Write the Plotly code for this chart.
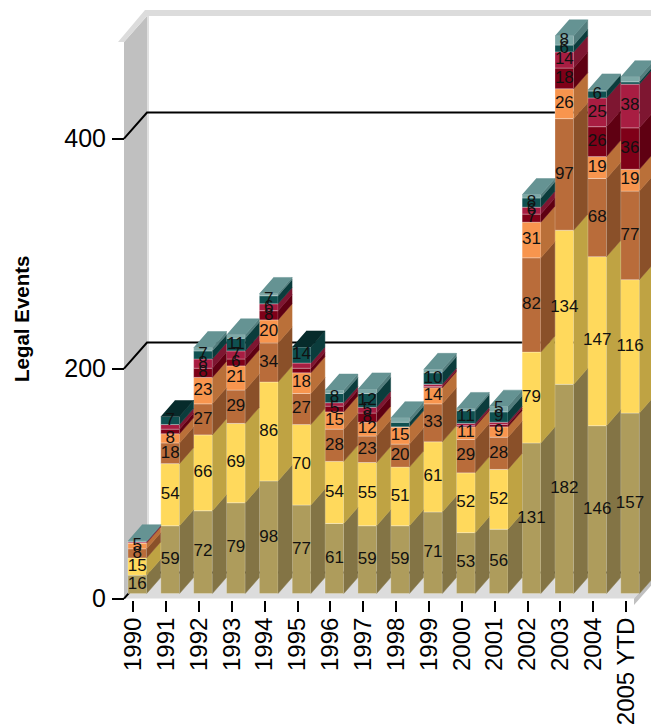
import plotly.graph_objects as go

years = ["1990","1991","1992","1993","1994","1995","1996","1997","1998","1999","2000","2001","2002","2003","2004","2005 YTD"]
khaki      = [16,59,72,79,98,77,61,59,59,71,53,56,131,182,146,157]
yellow     = [15,54,66,69,86,70,54,55,51,61,52,52,79,134,147,116]
brown      = [8,18,27,29,34,27,28,23,20,33,29,28,82,97,68,77]
orange     = [5,8,23,21,20,18,15,12,15,14,11,9,31,26,19,19]
dark_red   = [0,4,8,6,8,4,5,8,0,1,1,2,7,18,26,36]
crimson    = [1,4,8,7,6,4.5,3,5,0,2,2,2,6,14,25,38]
dark_teal  = [0,7,7,11,7,14,8,12,4,10,11,9,8,6,6,2]
light_teal = [1,0,3,3,2,0,3,4,4,3,2,5,3,8,1,4.5]

series = [khaki, yellow, brown, orange, dark_red, crimson, dark_teal, light_teal]
names = ["Khaki","Yellow","Brown","Orange","Dark red","Crimson","Dark teal","Light teal"]
front = ["#AE9C5C","#FFD95C","#B96C3A","#F8954E","#7F0018","#A81D42","#0F5050","#7CA8A6"]
side  = ["#837445","#BFA343","#8A5029","#BA7039","#5F0012","#7E1631","#0B3C3C","#537D7D"]
top   = ["#C8B878","#FFE680","#C98050","#FAB080","#90202A","#7E1631","#062B2B","#659393"]

# Pixel-derived scale constants turned into data units
PXX, PXY = 32.85, 1.15
X0, Y0 = 133.3, 598.6
PLOT_L, PLOT_B = 100, 620
W, H = 651, 725
def ux(px): return (px - X0) / PXX
def uy(py): return (Y0 - py) / PXY

bar_w = 18.7 / PXX
bar_off_x = 4.0 / PXX
bar_off_y = 5.0 / PXY
bar_dx = 14.0 / PXX
bar_dy = 16.0 / PXY
wall_dx = 23.0 / PXX
wall_dy = 26.0 / PXY

fig = go.Figure()
xs = [i + bar_off_x for i in range(len(years))]
cum = [bar_off_y] * len(years)
tops_of_bar = {}
side_polys = []
lab_x, lab_y, lab_t = [], [], []
for s, vals in enumerate(series):
    fig.add_trace(go.Bar(x=xs, y=vals, base=list(cum), width=bar_w, name=names[s],
                         marker=dict(color=front[s], line=dict(width=0.6, color="rgba(255,255,255,0.45)")),
                         hoverinfo="skip", showlegend=False))
    sx, sy = [], []
    for i, v in enumerate(vals):
        b, t = cum[i], cum[i] + v
        if v > 0:
            xr = xs[i] + bar_w / 2
            sx += [xr, xr + bar_dx, xr + bar_dx, xr, None]
            sy += [b, b + bar_dy, t + bar_dy, t, None]
            tops_of_bar[i] = (s, t)
            if v >= 5:
                lab_x.append(xs[i]); lab_y.append((b + t) / 2); lab_t.append(str(v))
    side_polys.append((sx, sy))
    cum = [c + v for c, v in zip(cum, vals)]

for s, (sx, sy) in enumerate(side_polys):
    fig.add_trace(go.Scatter(x=sx, y=sy, mode="lines", fill="toself", fillcolor=side[s],
                             line=dict(width=0.5, color=side[s]), hoverinfo="skip", showlegend=False))
for s in range(len(series)):
    tx, ty = [], []
    for i, (ss, t) in tops_of_bar.items():
        if ss == s:
            xl, xr = xs[i] - bar_w / 2, xs[i] + bar_w / 2
            tx += [xl, xr, xr + bar_dx, xl + bar_dx, None]
            ty += [t, t, t + bar_dy, t + bar_dy, None]
    if tx:
        fig.add_trace(go.Scatter(x=tx, y=ty, mode="lines", fill="toself", fillcolor=top[s],
                                 line=dict(width=0.5, color=top[s]),
                                 hoverinfo="skip", showlegend=False))
fig.add_trace(go.Scatter(x=lab_x, y=lab_y, mode="text", text=lab_t, textposition="middle center",
                         textfont=dict(family="Liberation Sans", size=17, color="#111111"),
                         hoverinfo="skip", showlegend=False))

# Walls and floor
wx0 = ux(124); wx1 = wx0 + wall_dx
xend = ux(680)
wtop = uy(42)
fx = ux(634)
def poly(pts, color, layer="below"):
    d = "M " + " L ".join(f"{x:.4f},{y:.3f}" for x, y in pts) + " Z"
    return dict(type="path", path=d, xref="x", yref="y", fillcolor=color, line=dict(width=0), layer=layer)
shapes = [
    poly([(wx0,0),(wx1,wall_dy),(wx1,wtop+wall_dy),(wx0,wtop)], "#C0C0C0"),
    poly([(wx1,wall_dy),(wx1+2/PXX,wall_dy),(wx1+2/PXX,wtop+wall_dy),(wx1,wtop+wall_dy)], "#E0E0E0"),
    poly([(ux(118),wtop),(wx0,wtop),(wx1,wtop+wall_dy),(xend,wtop+wall_dy),(xend,uy(10)),(ux(145),uy(10))], "#DCDCDC"),
    poly([(wx0,0),(fx,0),(fx+wall_dx,wall_dy),(wx1,wall_dy)], "#DCDCDC"),
    poly([(fx,0),(fx,-5.5),(fx+wall_dx,wall_dy-5.5),(fx+wall_dx,wall_dy)], "#C0C0C0"),
]
for v in [0, 200, 400]:
    shapes.append(dict(type="path", xref="x", yref="y", layer="below",
                       path=f"M {wx0:.4f},{v} L {wx1:.4f},{v+wall_dy:.3f} L {xend:.4f},{v+wall_dy:.3f}",
                       line=dict(color="#000000", width=2)))

plot_w = W - PLOT_L
fig.update_layout(
    width=W, height=H, paper_bgcolor="white", plot_bgcolor="rgba(0,0,0,0)",
    margin=dict(l=PLOT_L, r=0, t=0, b=H-PLOT_B, pad=0),
    barmode="overlay", showlegend=False, shapes=shapes,
    font=dict(family="Liberation Sans", color="black"),
    xaxis=dict(range=[ux(PLOT_L), ux(W)], tickmode="array", tickvals=list(range(len(years))), ticktext=years,
               tickangle=-90, ticks="outside", ticklen=11, tickwidth=2, tickcolor="black",
               tickfont=dict(size=24, color="black"), ticklabelstandoff=-4,
               showgrid=False, zeroline=False, showline=False,
               anchor="free", position=(PLOT_B-600)/PLOT_B, automargin=False),
    yaxis=dict(range=[uy(PLOT_B), uy(0)], tickmode="array", tickvals=[0,200,400], ticktext=["0","200","400"],
               ticks="outside", ticklen=12, tickwidth=2, tickcolor="black",
               tickfont=dict(size=25, color="black"), ticklabelstandoff=1,
               showgrid=False, zeroline=False, showline=False,
               anchor="free", position=(124-PLOT_L)/plot_w, automargin=False),
    annotations=[dict(text="<b>Legal Events</b>", xref="paper", yref="paper",
                      x=(21-PLOT_L)/plot_w, y=(PLOT_B-319)/PLOT_B, textangle=-90, showarrow=False,
                      font=dict(size=20.5, color="black"), xanchor="center", yanchor="middle")],
)
fig.write_html("out.html", config=dict(displayModeBar=False),
               post_script="document.body.style.margin='0';document.body.style.overflow='hidden';")
